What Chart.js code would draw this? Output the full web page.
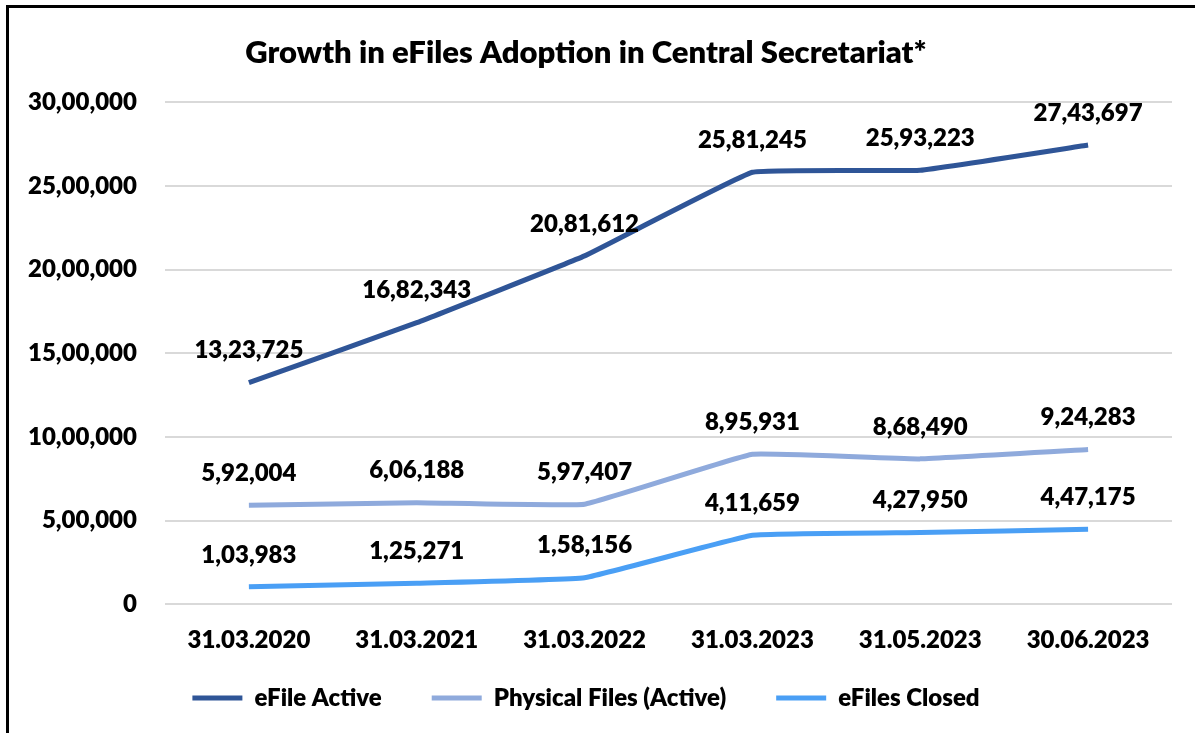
<!DOCTYPE html>
<html>
<head>
<meta charset="utf-8">
<script src="https://cdn.jsdelivr.net/npm/chart.js@4.4.0/dist/chart.umd.min.js"></script>
<style>
  html, body { margin: 0; padding: 0; background: #ffffff; overflow: hidden; }
  #wrap { position: relative; width: 1195px; height: 733px; }
  #frame {
    position: absolute; left: 6px; top: 5px; width: 1300px; height: 900px;
    border: 3px solid #000000; box-sizing: border-box; pointer-events: none;
  }
  canvas { position: absolute; left: 0; top: 0; }
</style>
</head>
<body>
<div id="wrap">
  <canvas id="growthChart" width="1195" height="733"></canvas>
  <div id="frame"></div>
</div>
<script>
"use strict";

// Chart data
const dates = ["31.03.2020", "31.03.2021", "31.03.2022", "31.03.2023", "31.05.2023", "30.06.2023"];
const eFileActive = [1323725, 1682343, 2081612, 2581245, 2593223, 2743697];
const physicalActive = [592004, 606188, 597407, 895931, 868490, 924283];
const eFilesClosed = [103983, 125271, 158156, 411659, 427950, 447175];

const FONT = "Lato, 'Open Sans', sans-serif";
const WEIGHT = "800";

// Indian digit grouping: 27,43,697
function formatIndian(n) {
  const s = Math.round(n).toString();
  if (s.length <= 3) return s;
  const last3 = s.slice(-3);
  let rest = s.slice(0, -3);
  const parts = [];
  while (rest.length > 2) {
    parts.unshift(rest.slice(-2));
    rest = rest.slice(0, -2);
  }
  if (rest.length) parts.unshift(rest);
  return parts.join(",") + "," + last3;
}

// Value labels above each point
const valueLabels = {
  id: "valueLabels",
  afterDatasetsDraw(chart) {
    const ctx = chart.ctx;
    ctx.save();
    ctx.font = WEIGHT + " 24px " + FONT;
    ctx.fillStyle = "#000000";
    ctx.textAlign = "center";
    ctx.textBaseline = "middle";
    chart.data.datasets.forEach((ds, i) => {
      const meta = chart.getDatasetMeta(i);
      meta.data.forEach((pt, j) => {
        ctx.fillText(formatIndian(ds.data[j]), pt.x, pt.y - 32);
      });
    });
    ctx.restore();
  },
};

function lineSet(label, data, color) {
  return {
    label: label,
    data: data,
    borderColor: color,
    backgroundColor: color,
    borderWidth: 5,
    pointRadius: 0,
    pointHoverRadius: 0,
    tension: 0.08,
    fill: false,
  };
}

const ctx = document.getElementById("growthChart").getContext("2d");

new Chart(ctx, {
  type: "line",
  data: {
    labels: dates,
    datasets: [
      lineSet("eFile Active", eFileActive, "#2F5597"),
      lineSet("Physical Files (Active)", physicalActive, "#8FAADC"),
      lineSet("eFiles Closed", eFilesClosed, "#4A9FF5"),
    ],
  },
  options: {
    responsive: false,
    animation: false,
    layout: {
      padding: { left: 0, right: 23, top: 18, bottom: 13 },
    },
    plugins: {
      title: {
        display: true,
        text: "Growth in eFiles Adoption in Central Secretariat*",
        color: "#000000",
        font: { family: FONT, size: 31, weight: WEIGHT },
        padding: { top: 16, bottom: 31 },
      },
      legend: {
        position: "bottom",
        // empty legend title with negative padding pulls the row up
        // so items keep wide horizontal spacing but sit close to the axis
        title: {
          display: true,
          text: "",
          font: { size: 10 },
          padding: { top: -45, bottom: 0 },
        },
        labels: {
          color: "#000000",
          font: { family: FONT, size: 24, weight: WEIGHT },
          usePointStyle: true,
          pointStyle: "line",
          pointStyleWidth: 50,
          boxHeight: 5,
          padding: 50,
        },
      },
      tooltip: { enabled: false },
    },
    scales: {
      x: {
        offset: true,
        grid: { display: false },
        border: { display: false },
        ticks: {
          color: "#000000",
          font: { family: FONT, size: 24, weight: WEIGHT },
          padding: 14,
          maxRotation: 0,
        },
      },
      y: {
        min: 0,
        max: 3000000,
        border: { display: false },
        grid: { color: "#D9D9D9", lineWidth: 2, drawTicks: false },
        ticks: {
          stepSize: 500000,
          color: "#000000",
          font: { family: FONT, size: 24, weight: WEIGHT },
          padding: 28,
          callback: function (value) {
            return formatIndian(value);
          },
        },
      },
    },
  },
  plugins: [valueLabels],
});
</script>
</body>
</html>
